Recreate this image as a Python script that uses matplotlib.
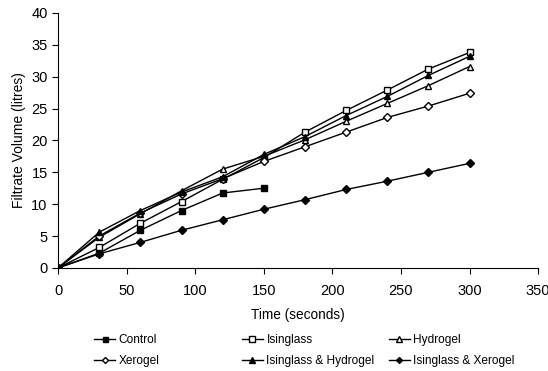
import matplotlib.pyplot as plt

plt.rcParams['font.family'] = ['Liberation Sans', 'DejaVu Sans']

time = [0, 30, 60, 90, 120, 150, 180, 210, 240, 270, 300]
time_control = [0, 30, 60, 90, 120, 150]

control = [0, 2.3, 5.9, 9.0, 11.75, 12.5]
isinglass = [0, 3.2, 7.0, 10.4, 13.9, 17.3, 21.3, 24.7, 27.9, 31.2, 33.8]
hydrogel = [0, 4.8, 8.5, 12.1, 15.5, 17.5, 20.1, 23.0, 25.8, 28.6, 31.6]
xerogel = [0, 5.0, 8.6, 11.6, 14.0, 16.7, 19.0, 21.3, 23.6, 25.4, 27.4]
isinglass_hydrogel = [0, 5.6, 9.0, 11.9, 14.3, 17.8, 20.6, 23.9, 26.9, 30.2, 33.2]
isinglass_xerogel = [0, 2.2, 4.0, 5.9, 7.55, 9.2, 10.7, 12.3, 13.6, 15.0, 16.4]

fig = plt.figure(figsize=(5.48, 3.71), dpi=100)
ax = fig.add_axes([0.106, 0.278, 0.876, 0.687])

lw = 1.0
h_control, = ax.plot(time_control, control, color='black', lw=lw, marker='s', ms=4.5,
                     mfc='black', mec='black', label='Control')
h_isin, = ax.plot(time, isinglass, color='black', lw=lw, marker='s', ms=5,
                  mfc='white', mec='black', label='Isinglass')
h_hydro, = ax.plot(time, hydrogel, color='black', lw=lw, marker='^', ms=5,
                   mfc='white', mec='black', label='Hydrogel')
h_xero, = ax.plot(time, xerogel, color='black', lw=lw, marker='D', ms=3.8,
                  mfc='white', mec='black', label='Xerogel')
h_ih, = ax.plot(time, isinglass_hydrogel, color='black', lw=lw, marker='^', ms=5,
                mfc='black', mec='black', label='Isinglass & Hydrogel')
h_ix, = ax.plot(time, isinglass_xerogel, color='black', lw=lw, marker='D', ms=3.8,
                mfc='black', mec='black', label='Isinglass & Xerogel')

ax.set_xlim(0, 350)
ax.set_ylim(0, 40)
ax.set_xticks(range(0, 351, 50))
ax.set_yticks(range(0, 41, 5))
ax.spines['top'].set_visible(False)
ax.spines['right'].set_visible(False)
ax.tick_params(direction='out', length=4, labelsize=10.5, width=0.8)
ax.tick_params(axis='x', pad=7.8)
ax.set_xlabel('Time (seconds)', fontsize=9.8, labelpad=7)
ax.set_ylabel('Filtrate Volume (litres)', fontsize=10)

# legend: three columns, two rows, placed like the original
columns = [(h_control, h_xero), (h_isin, h_ih), (h_hydro, h_ix)]
col_x = [0.1715, 0.441, 0.709]
for hs, x in zip(columns, col_x):
    leg = fig.legend(handles=list(hs), labels=[h.get_label() for h in hs],
                     loc='center left', bbox_to_anchor=(x, 0.0553),
                     frameon=False, fontsize=8.6, handlelength=1.77,
                     handletextpad=0.3, labelspacing=0.75, borderpad=0,
                     borderaxespad=0, markerscale=0.8)

fig.savefig('out.png', dpi=100)
